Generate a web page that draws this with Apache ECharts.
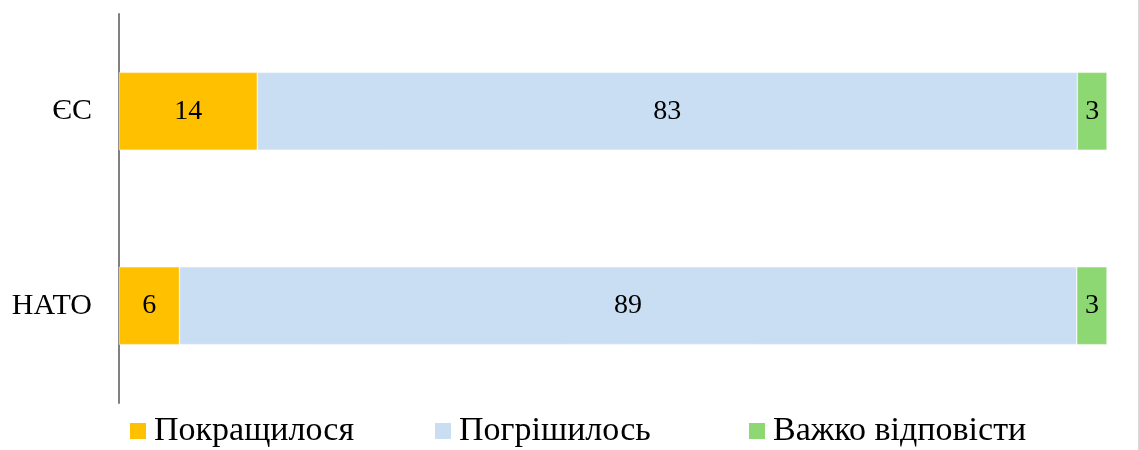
<!DOCTYPE html>
<html>
<head>
<meta charset="utf-8">
<script src="https://cdn.jsdelivr.net/npm/echarts@6/dist/echarts.min.js"></script>
<style>
  html, body { margin: 0; padding: 0; background: #fff; }
  #chart { width: 1139px; height: 450px; box-sizing: border-box; border-right: 1px solid #d9d9d9; }
</style>
</head>
<body>
<div id="chart"></div>
<script>
// категорії (знизу вгору для осі y)
const categories = ['НАТО', 'ЄС']
const improved = [6, 14]      // Покращилося
const worsened = [89, 83]     // Погрішилось
const hardToSay = [3, 3]      // Важко відповісти
const seriesNames = ['Покращилося', 'Погрішилось', 'Важко відповісти']

const totals = categories.map((c, i) => improved[i] + worsened[i] + hardToSay[i])
const toPercent = arr => arr.map((v, i) => ({ value: v / totals[i] * 100, raw: v }))

const chart = echarts.init(document.getElementById('chart'))
const font = '"Liberation Serif", "Times New Roman", serif'

const makeSeries = (name, data, color) => ({
    name: name,
    type: 'bar',
    stack: 'all',
    barCategoryGap: '60%',
    data: toPercent(data),
    itemStyle: { color: color, borderColor: '#fff', borderWidth: 0.5 },
    label: {
        show: true,
        position: 'inside',
        formatter: p => p.data.raw,
        color: '#000',
        fontFamily: font,
        fontSize: 28
    }
})

// окрема легенда для кожного ряду, як у Excel
const legendLeft = [128, 433, 747]
const legends = seriesNames.map((name, i) => ({
    top: 414,
    left: legendLeft[i],
    padding: 0,
    itemWidth: 18,
    itemHeight: 18,
    icon: 'rect',
    textStyle: { fontFamily: font, fontSize: 34, color: '#000', padding: [0, 0, 0, 2] },
    data: [name]
}))

chart.setOption({
    animation: false,
    grid: { left: 119, right: 31, top: 14, bottom: 47 },
    legend: legends,
    xAxis: {
        type: 'value',
        min: 0,
        max: 100,
        show: false
    },
    yAxis: {
        type: 'category',
        data: categories,
        axisLine: { show: true, lineStyle: { color: '#808080', width: 2 } },
        axisTick: { show: false },
        axisLabel: { fontFamily: font, fontSize: 30, color: '#000', margin: 27 }
    },
    series: [
        makeSeries(seriesNames[0], improved, '#FFC000'),
        makeSeries(seriesNames[1], worsened, '#C9DEF3'),
        makeSeries(seriesNames[2], hardToSay, '#8ED873')
    ]
})
</script>
</body>
</html>
